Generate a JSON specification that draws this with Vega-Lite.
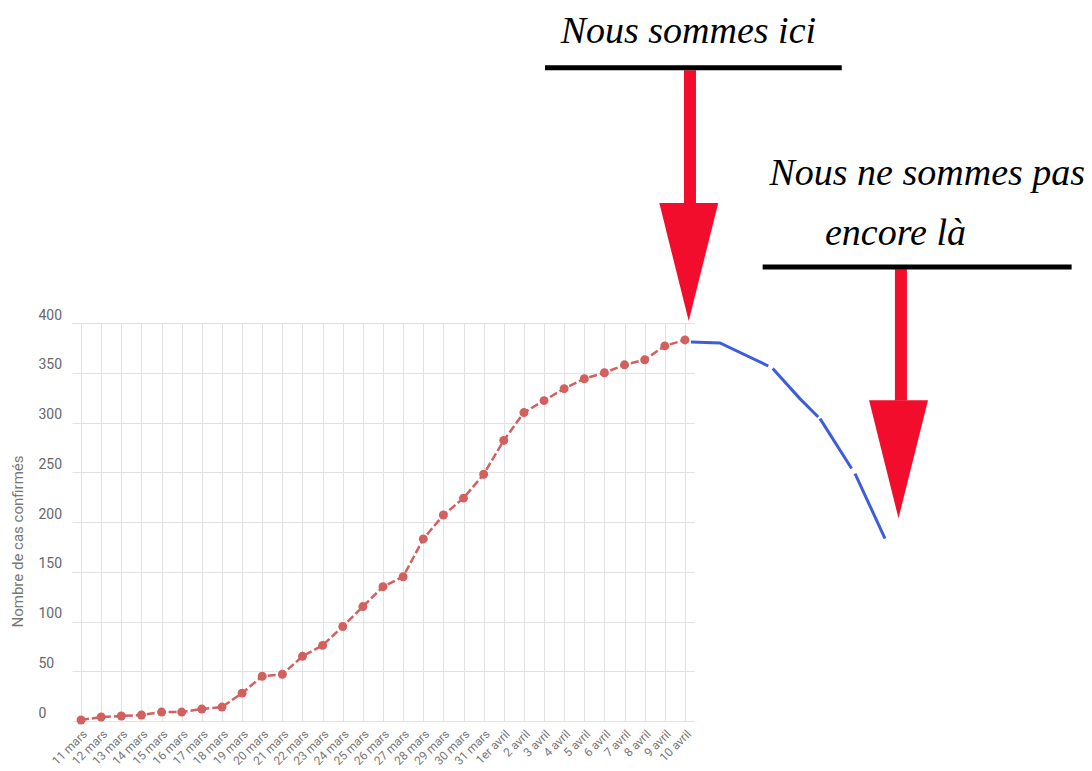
{
  "$schema": "https://vega.github.io/schema/vega-lite/v6.json",
  "width": 622,
  "height": 398,
  "autosize": {"type": "none"},
  "padding": {"left": 72, "top": 323, "right": 398, "bottom": 50},
  "background": "white",
  "config": {"view": {"stroke": null}, "font": "Roboto"},
  "datasets": {
    "cases": [
      {"date": "11 mars", "cases": 1},
      {"date": "12 mars", "cases": 4},
      {"date": "13 mars", "cases": 5},
      {"date": "14 mars", "cases": 6},
      {"date": "15 mars", "cases": 9},
      {"date": "16 mars", "cases": 9},
      {"date": "17 mars", "cases": 12},
      {"date": "18 mars", "cases": 14},
      {"date": "19 mars", "cases": 28},
      {"date": "20 mars", "cases": 45},
      {"date": "21 mars", "cases": 47},
      {"date": "22 mars", "cases": 65},
      {"date": "23 mars", "cases": 76},
      {"date": "24 mars", "cases": 95},
      {"date": "25 mars", "cases": 115},
      {"date": "26 mars", "cases": 135},
      {"date": "27 mars", "cases": 145},
      {"date": "28 mars", "cases": 183},
      {"date": "29 mars", "cases": 207},
      {"date": "30 mars", "cases": 224},
      {"date": "31 mars", "cases": 248},
      {"date": "1er avril", "cases": 282},
      {"date": "2 avril", "cases": 310},
      {"date": "3 avril", "cases": 322},
      {"date": "4 avril", "cases": 334},
      {"date": "5 avril", "cases": 344},
      {"date": "6 avril", "cases": 350},
      {"date": "7 avril", "cases": 358},
      {"date": "8 avril", "cases": 363},
      {"date": "9 avril", "cases": 377},
      {"date": "10 avril", "cases": 383}
    ],
    "projection": [
      {"seg": "a", "day": 30.3, "cases": 381},
      {"seg": "a", "day": 31.74, "cases": 380},
      {"seg": "a", "day": 34.14, "cases": 356.8},
      {"seg": "b", "day": 34.36, "cases": 354.2},
      {"seg": "b", "day": 35.71, "cases": 324},
      {"seg": "b", "day": 36.62, "cases": 305.5},
      {"seg": "c", "day": 36.71, "cases": 303.9},
      {"seg": "c", "day": 38.28, "cases": 253.7},
      {"seg": "d", "day": 38.45, "cases": 248.6},
      {"seg": "d", "day": 39.94, "cases": 183.3}
    ],
    "shafts": [
      {"day": 30.25, "top": 654, "bottom": 518},
      {"day": 40.73, "top": 454, "bottom": 322}
    ],
    "heads": [
      {"day": 30.19, "cases": 461.3},
      {"day": 40.61, "cases": 263}
    ],
    "underlines": [
      {"from": 23.05, "to": 37.79, "level": 656.5},
      {"from": 33.86, "to": 49.21, "level": 456.3}
    ],
    "notes": [
      {"label": "Nous sommes ici", "day": 30.17, "cases": 681.4},
      {"label": "Nous ne sommes pas", "day": 42.04, "cases": 538.4},
      {"label": "encore là", "day": 40.46, "cases": 478.1}
    ]
  },
  "layer": [
    {
      "data": {"name": "cases"},
      "encoding": {
        "x": {
          "field": "date",
          "type": "ordinal",
          "sort": null,
          "scale": {"type": "point", "padding": 0.45},
          "axis": {
            "title": null,
            "labelAngle": -45,
            "labelFontSize": 12,
            "labelColor": "#777777",
            "labelPadding": 7,
            "grid": true,
            "gridColor": "#e2e2e2",
            "domain": false,
            "ticks": false
          }
        },
        "y": {
          "field": "cases",
          "type": "quantitative",
          "scale": {"domain": [0, 400], "nice": false, "zero": false},
          "axis": {
            "title": "Nombre de cas confirmés",
            "titleFontSize": 15,
            "titleFontWeight": "normal",
            "titleColor": "#777777",
            "titleX": -55,
            "titleY": 218,
            "titleBaseline": "middle",
            "titleAlign": "center",
            "titleAngle": -90,
            "values": [0, 50, 100, 150, 200, 250, 300, 350, 400],
            "labelAlign": "left",
            "labelPadding": 34,
            "labelBaseline": "alphabetic",
            "labelOffset": -4,
            "labelFontSize": 14,
            "labelColor": "#666666",
            "grid": true,
            "gridColor": "#e2e2e2",
            "domain": false,
            "ticks": false
          }
        }
      },
      "layer": [
        {"mark": {"type": "line", "color": "#d2605f", "strokeWidth": 2.5, "strokeDash": [8, 3]}},
        {"mark": {"type": "point", "filled": true, "opacity": 1, "size": 80, "color": "#d2605f"}}
      ]
    },
    {
      "layer": [
        {
          "data": {"name": "projection"},
          "mark": {"type": "line", "color": "#3d5ddd", "strokeWidth": 3},
          "encoding": {
            "x": {"field": "day", "type": "quantitative", "scale": {"domain": [-0.45, 30.45], "nice": false, "zero": false}, "axis": null},
            "y": {"field": "cases", "type": "quantitative", "scale": {"domain": [0, 400], "nice": false, "zero": false}},
            "detail": {"field": "seg"}
          }
        },
        {
          "data": {"name": "shafts"},
          "mark": {"type": "rule", "color": "#f10d2b", "strokeWidth": 12, "strokeCap": "butt"},
          "encoding": {
            "x": {"field": "day", "type": "quantitative", "scale": {"domain": [-0.45, 30.45], "nice": false, "zero": false}, "axis": null},
            "y": {"field": "top", "type": "quantitative", "scale": {"domain": [0, 400], "nice": false, "zero": false}},
            "y2": {"field": "bottom"}
          }
        },
        {
          "data": {"name": "heads"},
          "mark": {"type": "point", "filled": true, "opacity": 1, "color": "#f10d2b", "strokeWidth": 0, "shape": "M-0.5,-1L0.5,-1L0,1Z", "size": 13900},
          "encoding": {
            "x": {"field": "day", "type": "quantitative", "scale": {"domain": [-0.45, 30.45], "nice": false, "zero": false}, "axis": null},
            "y": {"field": "cases", "type": "quantitative", "scale": {"domain": [0, 400], "nice": false, "zero": false}}
          }
        },
        {
          "data": {"name": "underlines"},
          "mark": {"type": "rule", "color": "#000000", "strokeWidth": 5, "strokeCap": "butt"},
          "encoding": {
            "x": {"field": "from", "type": "quantitative", "scale": {"domain": [-0.45, 30.45], "nice": false, "zero": false}, "axis": null},
            "x2": {"field": "to"},
            "y": {"field": "level", "type": "quantitative", "scale": {"domain": [0, 400], "nice": false, "zero": false}}
          }
        },
        {
          "data": {"name": "notes"},
          "mark": {"type": "text", "font": "Liberation Serif", "fontStyle": "italic", "fontSize": 38, "color": "#000000", "align": "center", "baseline": "alphabetic"},
          "encoding": {
            "x": {"field": "day", "type": "quantitative", "scale": {"domain": [-0.45, 30.45], "nice": false, "zero": false}, "axis": null},
            "y": {"field": "cases", "type": "quantitative", "scale": {"domain": [0, 400], "nice": false, "zero": false}},
            "text": {"field": "label"}
          }
        }
      ]
    }
  ],
  "resolve": {"scale": {"x": "independent"}}
}
